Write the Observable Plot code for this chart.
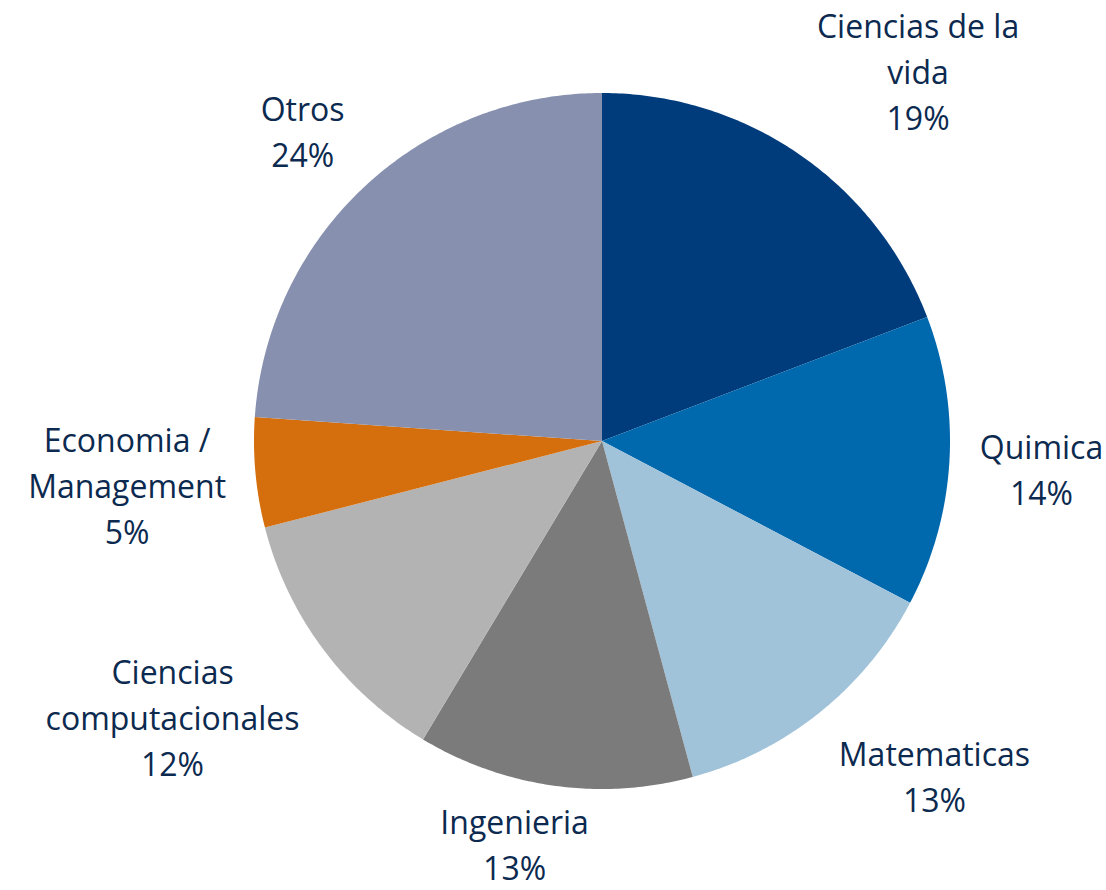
<!DOCTYPE html>
<html>
<head>
<meta charset="utf-8">
<script src="https://cdn.jsdelivr.net/npm/d3@7"></script>
<script src="https://cdn.jsdelivr.net/npm/@observablehq/plot@0.6"></script>
<style>
  html, body { margin: 0; padding: 0; background: #ffffff; }
  #chart svg { display: block; }
</style>
</head>
<body>
<div id="chart"></div>
<script>
// ---- data ----
const categories = ["Ciencias de la vida", "Quimica", "Matematicas", "Ingenieria", "Ciencias computacionales", "Economia / Management", "Otros"];
const labelText = ["Ciencias de la\nvida", "Quimica", "Matematicas", "Ingenieria", "Ciencias\ncomputacionales", "Economia /\nManagement", "Otros"];
const values = [19.2, 13.5, 13.1, 12.8, 12.4, 5.1, 23.9];
const colors = ["#003C7B", "#0068AD", "#A1C3DA", "#7B7B7B", "#B3B3B3", "#D56F0E", "#8790AE"];

// ---- layout ----
const W = 1106, H = 890;
const CX = 602, CY = 441, R = 348;
const fontSize = 32, lineH = 46, gap = 30, capH = 30;
const fontFamily = "'Open Sans', sans-serif";
const textColor = "#0C2A4F";

const total = d3.sum(values);
const ctx = document.createElement("canvas").getContext("2d");
ctx.font = `${fontSize}px 'Open Sans'`;

const clamp = v => Math.max(-1, Math.min(1, v));
const wedges = [];
const labels = [];
let acc = 0;
values.forEach((v, i) => {
  const a0 = acc / total * 2 * Math.PI;
  acc += v;
  const a1 = acc / total * 2 * Math.PI;
  const n = Math.max(2, Math.ceil((a1 - a0) / 0.01));
  for (let k = 0; k <= n; k++) {
    const a = a0 + (a1 - a0) * k / n;
    wedges.push({name: categories[i], x2: Math.sin(a), y2: Math.cos(a)});
  }
  const m = (a0 + a1) / 2;
  const text = labelText[i] + "\n" + Math.round(v) + "%";
  const lines = text.split("\n");
  const w = d3.max(lines, l => ctx.measureText(l).width);
  const h = (lines.length - 1) * lineH + capH;
  const rr = (R + gap) / R;
  const px = rr * Math.sin(m), py = rr * Math.cos(m);
  const kx = clamp(3.5 * Math.sin(m)), ky = clamp(1.3 * Math.cos(m));
  let x = px + kx * w / 2 / R, y = py + ky * h / 2 / R;
  // keep the label box inside the frame
  const yMinUnit = -(H - CY - h / 2 - 10) / R;
  const yMaxUnit = (CY - h / 2 - 6) / R;
  y = Math.max(yMinUnit, Math.min(yMaxUnit, y));
  labels.push({text, x, y});
});

const chart = Plot.plot({
  width: W,
  height: H,
  margin: 0,
  x: {domain: [-CX / R, (W - CX) / R], range: [0, W], axis: null},
  y: {domain: [-(H - CY) / R, CY / R], range: [H, 0], axis: null},
  color: {domain: categories, range: colors},
  marks: [
    Plot.area(wedges, {x1: () => 0, y1: () => 0, x2: "x2", y2: "y2", fill: "name", z: "name", curve: "linear"}),
    Plot.text(labels, {
      x: "x", y: "y", text: "text",
      textAnchor: "middle", lineAnchor: "middle",
      lineHeight: lineH / fontSize,
      fontSize, fontFamily, fill: textColor
    })
  ]
});
document.getElementById("chart").appendChild(chart);
</script>
</body>
</html>
